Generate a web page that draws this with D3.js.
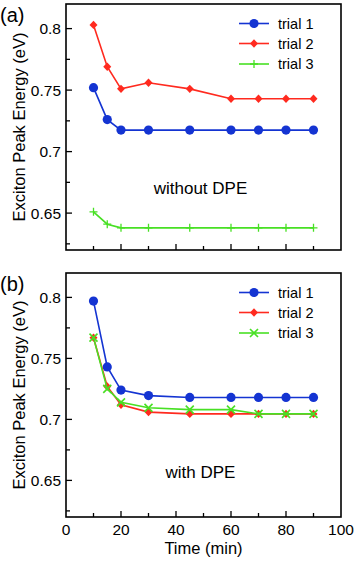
<!DOCTYPE html>
<html>
<head>
<meta charset="utf-8">
<script src="https://cdn.jsdelivr.net/npm/d3@7"></script>
<style>
  body { margin: 0; background: #fff; }
  svg { display: block; font-family: "Liberation Sans", Arial, sans-serif; }
</style>
</head>
<body>
<svg id="chart" width="354" height="561"></svg>
<script>
// time points (min)
const times = [10, 15, 20, 30, 45, 60, 70, 80, 90]

// (a) without DPE
const aTrial1 = [0.752, 0.726, 0.7175, 0.7175, 0.7175, 0.7175, 0.7175, 0.7175, 0.7175]
const aTrial2 = [0.803, 0.769, 0.751, 0.756, 0.751, 0.743, 0.743, 0.743, 0.743]
const aTrial3 = [0.651, 0.641, 0.638, 0.638, 0.638, 0.638, 0.638, 0.638, 0.638]

// (b) with DPE
const bTrial1 = [0.797, 0.743, 0.724, 0.7195, 0.718, 0.718, 0.718, 0.718, 0.718]
const bTrial2 = [0.767, 0.727, 0.712, 0.706, 0.7045, 0.7045, 0.7045, 0.7045, 0.7045]
const bTrial3 = [0.767, 0.725, 0.714, 0.7095, 0.708, 0.708, 0.7045, 0.7045, 0.7045]

const trialNames = ['trial 1', 'trial 2', 'trial 3']
const yTicks = [0.65, 0.7, 0.75, 0.8]
const xTicks = [0, 20, 40, 60, 80, 100]

const colors = ['#1434d2', '#ff2a1f', '#48e024']

let svg = d3.select('#chart')

let x = d3.scaleLinear().domain([0, 100]).range([66, 341])

function panel (top, bottom, series, markers3, label, note, noteY, showX) {
    let y = d3.scaleLinear().domain([0.62, 0.82]).range([bottom, top])
    let g = svg.append('g')

    // minor + major ticks, inward
    let yMinor = d3.range(0.625, 0.82, 0.025)
    g.selectAll('.ytick')
        .data(yMinor)
        .join('line')
        .attr('x1', x(0)).attr('x2', (d, i) => x(0) + (i % 2 ? 6 : 4))
        .attr('y1', d => y(d)).attr('y2', d => y(d))
        .style('stroke', '#000').style('stroke-width', 1.3)

    g.selectAll('.xtick')
        .data(d3.range(10, 100, 10))
        .join('line')
        .attr('class', 'xt')
        .attr('x1', d => x(d)).attr('x2', d => x(d))
        .attr('y1', bottom).attr('y2', (d) => bottom - (d % 20 ? 4 : 6))
        .style('stroke', '#000').style('stroke-width', 1.3)

    g.append('rect')
        .attr('x', x(0)).attr('y', top)
        .attr('width', x(100) - x(0)).attr('height', bottom - top)
        .style('fill', 'none').style('stroke', '#000').style('stroke-width', 1.6)

    g.selectAll('.ylab')
        .data(yTicks)
        .join('text')
        .attr('x', x(0) - 5).attr('y', d => y(d) + 5.5)
        .attr('text-anchor', 'end')
        .style('font-size', '15.5px')
        .text(d => d3.format('~g')(d))

    if (showX) {
        g.selectAll('.xlab')
            .data(xTicks)
            .join('text')
            .attr('x', d => x(d)).attr('y', bottom + 18)
            .attr('text-anchor', 'middle')
            .style('font-size', '15.5px')
            .text(d => d)
    }

    g.append('text')
        .attr('transform', `translate(25, ${(top + bottom) / 2}) rotate(-90)`)
        .attr('text-anchor', 'middle')
        .style('font-size', '16.5px')
        .text('Exciton Peak Energy (eV)')

    g.append('text').attr('x', 0).attr('y', top + 18)
        .style('font-size', '20px').text(label)

    g.append('text').attr('x', x(50) - 3).attr('y', noteY)
        .attr('text-anchor', 'middle')
        .style('font-size', '17px').text(note)

    let line = d3.line().x((d, i) => x(times[i])).y(d => y(d))

    series.forEach((vals, k) => {
        g.append('path')
            .attr('d', line(vals))
            .style('fill', 'none').style('stroke', colors[k]).style('stroke-width', 1.6)
        let pts = vals.map((v, i) => [x(times[i]), y(v)])
        drawMarkers(g, pts, k === 2 ? markers3 : ['circle', 'diamond'][k], colors[k])
    })

    // legend
    let ly = [top + 19.5, top + 39.5, top + 60]
    trialNames.forEach((name, k) => {
        g.append('line')
            .attr('x1', 239).attr('x2', 269)
            .attr('y1', ly[k]).attr('y2', ly[k])
            .style('stroke', colors[k]).style('stroke-width', 1.6)
        drawMarkers(g, [[254, ly[k]]], k === 2 ? markers3 : ['circle', 'diamond'][k], colors[k])
        g.append('text').attr('x', 278).attr('y', ly[k] + 5)
            .style('font-size', '14.5px').text(name)
    })
}

function drawMarkers (g, pts, type, color) {
    pts.forEach(([px, py]) => {
        if (type === 'circle') {
            g.append('circle').attr('cx', px).attr('cy', py).attr('r', 4.6)
                .style('fill', color)
        } else if (type === 'diamond') {
            g.append('path')
                .attr('d', `M${px},${py - 4.2}L${px + 4},${py}L${px},${py + 4.2}L${px - 4},${py}Z`)
                .style('fill', color)
        } else if (type === 'plus') {
            g.append('path')
                .attr('d', `M${px - 4},${py}H${px + 4}M${px},${py - 4}V${py + 4}`)
                .style('stroke', color).style('stroke-width', 1.3)
        } else {
            g.append('path')
                .attr('d', `M${px - 4},${py - 4}L${px + 4},${py + 4}M${px - 4},${py + 4}L${px + 4},${py - 4}`)
                .style('stroke', color).style('stroke-width', 1.6)
        }
    })
}

panel(4, 250, [aTrial1, aTrial2, aTrial3], 'plus', '(a)', 'without DPE', 194, false)
panel(273, 517, [bTrial1, bTrial2, bTrial3], 'cross', '(b)', 'with DPE', 478, true)

svg.append('text').attr('x', x(50)).attr('y', 554)
    .attr('text-anchor', 'middle')
    .style('font-size', '16.5px').text('Time (min)')
</script>
</body>
</html>
